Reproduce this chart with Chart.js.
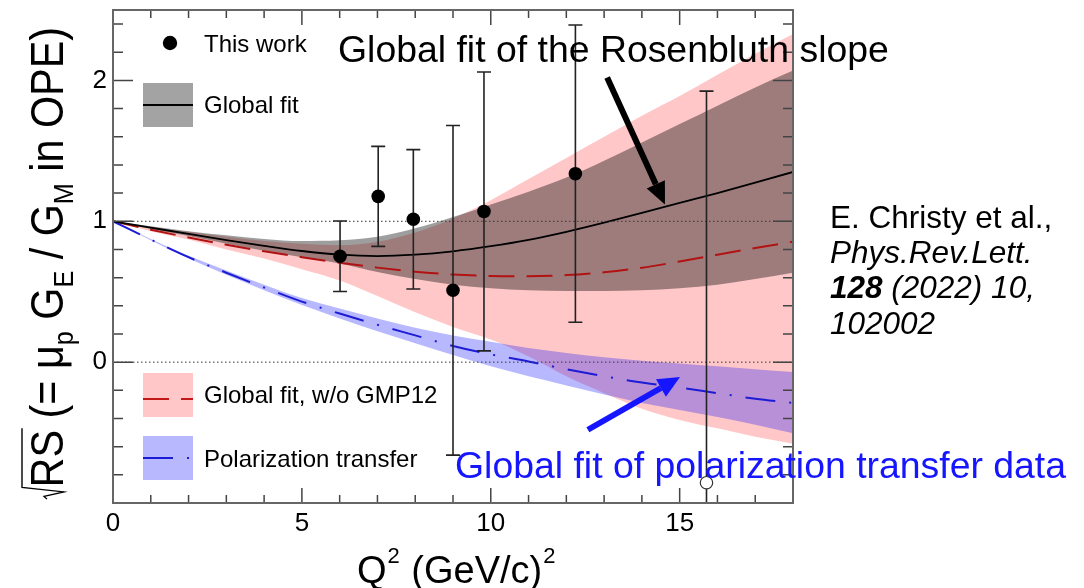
<!DOCTYPE html>
<html>
<head>
<meta charset="utf-8">
<script src="https://cdn.jsdelivr.net/npm/chart.js@4.4.1/dist/chart.umd.min.js"></script>
<style>
  html, body { margin: 0; padding: 0; background: #fff; }
  #wrap { width: 1084px; height: 588px; }
</style>
</head>
<body>
<div id="wrap"><canvas id="rsChart" width="1084" height="588"></canvas></div>
<script>
const FONT = '"Liberation Sans", Arial, Helvetica, sans-serif';

// Q^2 grid on which the fit curves and their bands are tabulated
const q2Grid = [0, 1, 2, 3, 4, 5, 6, 7, 8, 9, 10, 11, 12, 13, 14, 15, 16, 17, 18];

// global fit (Rosenbluth slope)
const globalFit = [1.0, 0.955, 0.91, 0.867, 0.826, 0.789, 0.763, 0.753, 0.763, 0.787, 0.823, 0.868, 0.925, 0.99, 1.06, 1.13, 1.2, 1.275, 1.35];
const globalHi  = [1.0, 0.965, 0.93, 0.9, 0.875, 0.86, 0.865, 0.89, 0.95, 1.03, 1.12, 1.21, 1.31, 1.43, 1.56, 1.69, 1.82, 1.95, 2.07];
const globalLo  = [1.0, 0.945, 0.895, 0.84, 0.79, 0.745, 0.7, 0.64, 0.59, 0.55, 0.525, 0.51, 0.505, 0.505, 0.51, 0.525, 0.55, 0.59, 0.635];

// global fit without the GMP12 data
const noGmpFit = [1.0, 0.94, 0.885, 0.833, 0.787, 0.745, 0.706, 0.671, 0.642, 0.622, 0.612, 0.61, 0.618, 0.638, 0.67, 0.715, 0.763, 0.81, 0.855];
const noGmpHi  = [1.0, 0.955, 0.925, 0.89, 0.86, 0.84, 0.83, 0.855, 0.92, 1.02, 1.15, 1.3, 1.45, 1.6, 1.75, 1.89, 2.04, 2.19, 2.33];
const noGmpLo  = [1.0, 0.93, 0.87, 0.8, 0.735, 0.66, 0.58, 0.47, 0.355, 0.25, 0.16, 0.04, -0.1, -0.22, -0.33, -0.41, -0.47, -0.53, -0.58];

// polarization transfer fit
const polFit = [1.0, 0.87, 0.745, 0.635, 0.53, 0.43, 0.345, 0.265, 0.19, 0.115, 0.055, 0.005, -0.05, -0.1, -0.145, -0.18, -0.22, -0.26, -0.29];
const polHi  = [1.0, 0.875, 0.755, 0.65, 0.55, 0.455, 0.38, 0.31, 0.245, 0.19, 0.145, 0.1, 0.065, 0.035, 0.01, -0.01, -0.03, -0.05, -0.07];
const polLo  = [1.0, 0.865, 0.735, 0.62, 0.51, 0.405, 0.31, 0.22, 0.135, 0.05, -0.03, -0.1, -0.165, -0.23, -0.29, -0.34, -0.39, -0.445, -0.505];

// measured points with symmetric errors
const workQ2  = [6.01, 7.02, 7.95, 9.0, 9.82, 12.24];
const workRS  = [0.752, 1.177, 1.014, 0.51, 1.07, 1.338];
const workErr = [0.25, 0.355, 0.495, 1.17, 0.99, 1.055];
const openQ2  = [15.71];
const openRS  = [-0.856];
const openErr = [2.78];

// dotted reference levels
const refLevels = [1, 0];

const xTickValues = [0, 5, 10, 15];
const yTickValues = [0, 1, 2];

const curve = ys => q2Grid.map((x, i) => ({ x: x, y: ys[i] }));
const clear = 'rgba(0,0,0,0)';

function band(label, ys, color, fill, order) {
  return {
    label: label, data: curve(ys), backgroundColor: color, borderColor: clear,
    borderWidth: 0, pointRadius: 0, fill: fill, order: order,
    cubicInterpolationMode: 'monotone'
  };
}

const datasets = [
  band('noGmpHi', noGmpHi, 'rgba(255,0,0,0.22)', '+1', 20),
  band('noGmpLo', noGmpLo, clear, false, 21),
  band('polHi', polHi, 'rgba(0,0,255,0.28)', '+1', 18),
  band('polLo', polLo, clear, false, 19),
  band('globalHi', globalHi, 'rgba(0,0,0,0.38)', '+1', 16),
  band('globalLo', globalLo, clear, false, 17),
  {
    label: 'Global fit, w/o GMP12', data: curve(noGmpFit), borderColor: '#b31212',
    borderWidth: 2, borderDash: [26, 12], pointRadius: 0, fill: false, order: 10,
    cubicInterpolationMode: 'monotone'
  },
  {
    label: 'Polarization transfer', data: curve(polFit), borderColor: '#1c1cd6',
    borderWidth: 2, borderDash: [30, 14, 2, 14], pointRadius: 0, fill: false, order: 9,
    cubicInterpolationMode: 'monotone'
  },
  {
    label: 'Global fit', data: curve(globalFit), borderColor: '#000',
    borderWidth: 1.8, pointRadius: 0, fill: false, order: 8,
    cubicInterpolationMode: 'monotone'
  }
];

refLevels.forEach((lvl, i) => {
  datasets.push({
    label: 'ref' + lvl, data: [{ x: 0, y: lvl }, { x: 18, y: lvl }],
    borderColor: '#333', borderWidth: 1, borderDash: [1.5, 2.5],
    pointRadius: 0, fill: false, order: 6 + i
  });
});

datasets.push({
  label: 'This work', data: workQ2.map((x, i) => ({ x: x, y: workRS[i] })), errors: workErr,
  showLine: false, pointRadius: 6.8, pointBackgroundColor: '#000', pointBorderColor: '#000',
  pointBorderWidth: 0, order: 2
});
datasets.push({
  label: 'open', data: openQ2.map((x, i) => ({ x: x, y: openRS[i] })), errors: openErr,
  showLine: false, pointRadius: 6.2, pointBackgroundColor: '#fff', pointBorderColor: '#333',
  pointBorderWidth: 1.2, order: 1
});

// vertical error bars with end caps, drawn just before their markers
const errorBars = {
  id: 'errorBars',
  beforeDatasetDraw(chart, args) {
    const ds = chart.data.datasets[args.index];
    if (!ds.errors) return;
    const { ctx, chartArea: a, scales: { x, y } } = chart;
    ctx.save();
    ctx.strokeStyle = '#222';
    ctx.lineWidth = 1.6;
    ds.data.forEach((p, i) => {
      const px = x.getPixelForValue(p.x);
      const top = Math.max(y.getPixelForValue(p.y + ds.errors[i]), a.top);
      const bot = Math.min(y.getPixelForValue(p.y - ds.errors[i]), a.bottom);
      ctx.beginPath();
      ctx.moveTo(px, top); ctx.lineTo(px, bot);
      ctx.moveTo(px - 7, top); ctx.lineTo(px + 7, top);
      ctx.moveTo(px - 7, bot); ctx.lineTo(px + 7, bot);
      ctx.stroke();
    });
    ctx.restore();
  }
};

// ROOT style frame with inward ticks on all four sides
const frameTicks = {
  id: 'frameTicks',
  afterDatasetsDraw(chart) {
    const { ctx, chartArea: a, scales: { x, y } } = chart;
    ctx.save();
    ctx.strokeStyle = '#444';
    ctx.lineWidth = 1.5;
    ctx.beginPath();
    for (let v = 1; v < 18; v++) {
      const px = x.getPixelForValue(v);
      const len = v % 5 === 0 ? 15 : 8;
      ctx.moveTo(px, a.bottom); ctx.lineTo(px, a.bottom - len);
      ctx.moveTo(px, a.top); ctx.lineTo(px, a.top + len);
    }
    for (let k = -4; k <= 12; k++) {
      const py = y.getPixelForValue(k * 0.2);
      const len = k % 5 === 0 ? 20 : 10;
      ctx.moveTo(a.left, py); ctx.lineTo(a.left + len, py);
      ctx.moveTo(a.right, py); ctx.lineTo(a.right - len, py);
    }
    ctx.stroke();
    ctx.strokeStyle = '#666';
    ctx.lineWidth = 2;
    ctx.strokeRect(a.left, a.top, a.right - a.left, a.bottom - a.top);
    ctx.restore();
  }
};

function arrow(ctx, x0, y0, x1, y1, color, width, headLen, headW) {
  const ang = Math.atan2(y1 - y0, x1 - x0);
  const bx = x1 - headLen * Math.cos(ang), by = y1 - headLen * Math.sin(ang);
  ctx.save();
  ctx.strokeStyle = color; ctx.fillStyle = color; ctx.lineWidth = width;
  ctx.beginPath(); ctx.moveTo(x0, y0); ctx.lineTo(bx, by); ctx.stroke();
  const nx = -Math.sin(ang) * headW / 2, ny = Math.cos(ang) * headW / 2;
  ctx.beginPath();
  ctx.moveTo(x1, y1); ctx.lineTo(bx + nx, by + ny); ctx.lineTo(bx - nx, by - ny);
  ctx.closePath(); ctx.fill();
  ctx.restore();
}

function drawYTitle(ctx, baseX, startY, endY) {
  const F = 46, S = 28;
  const parts = [
    { t: 'RS', f: F, dv: 0 },
    { t: ' (= \u03bc', f: F, dv: 0 },
    { t: 'p', f: S, dv: 10 },
    { t: ' G', f: F, dv: 0 },
    { t: 'E', f: S, dv: 10 },
    { t: ' / G', f: F, dv: 0 },
    { t: 'M', f: S, dv: 10 },
    { t: ' in OPE)', f: F, dv: 0 }
  ];
  const radW = 14;
  let total = radW;
  parts.forEach(p => { ctx.font = p.f + 'px ' + FONT; p.w = ctx.measureText(p.t).width; total += p.w; });
  const sx = (startY - endY) / total;
  ctx.save();
  ctx.translate(baseX, startY);
  ctx.rotate(-Math.PI / 2);
  ctx.scale(sx, 1);
  ctx.fillStyle = '#000';
  ctx.strokeStyle = '#000';
  ctx.lineWidth = 1.4;
  // radical sign over RS
  ctx.beginPath();
  ctx.moveTo(1, -16); ctx.lineTo(4, -19); ctx.lineTo(9, 1); ctx.lineTo(radW, -41);
  ctx.lineTo(radW + parts[0].w + 2, -41);
  ctx.stroke();
  let u = radW;
  parts.forEach(p => {
    ctx.font = p.f + 'px ' + FONT;
    ctx.fillText(p.t, u, p.dv);
    u += p.w;
  });
  ctx.restore();
}

function drawXTitle(ctx, x, y) {
  const F = 38, S = 22;
  const segs = [['Q', F, 0], ['2', S, -20], [' (GeV/c)', F, 0], ['2', S, -20]];
  segs.forEach(s => {
    ctx.font = s[1] + 'px ' + FONT;
    ctx.fillText(s[0], x, y + s[2]);
    x += ctx.measureText(s[0]).width + 1;
  });
}

// legend, axis titles and annotations
const decorations = {
  id: 'decorations',
  afterDraw(chart) {
    const { ctx, scales: { x, y } } = chart;
    ctx.save();
    ctx.textBaseline = 'alphabetic';
    ctx.textAlign = 'left';
    ctx.fillStyle = '#000';

    // legend
    ctx.beginPath(); ctx.arc(170, 43, 7.2, 0, Math.PI * 2); ctx.fill();
    ctx.fillStyle = 'rgba(0,0,0,0.36)'; ctx.fillRect(143, 83, 50, 44);
    ctx.fillStyle = 'rgba(255,0,0,0.22)'; ctx.fillRect(143, 373, 50, 44);
    ctx.fillStyle = 'rgba(0,0,255,0.28)'; ctx.fillRect(143, 436, 50, 44);
    ctx.lineWidth = 2;
    ctx.strokeStyle = '#000';
    ctx.beginPath(); ctx.moveTo(143, 105); ctx.lineTo(193, 105); ctx.stroke();
    ctx.strokeStyle = '#c21818'; ctx.setLineDash([26, 12]);
    ctx.beginPath(); ctx.moveTo(143, 399); ctx.lineTo(193, 399); ctx.stroke();
    ctx.strokeStyle = '#1c1cd6'; ctx.setLineDash([30, 14, 2, 14]);
    ctx.beginPath(); ctx.moveTo(143, 458); ctx.lineTo(193, 458); ctx.stroke();
    ctx.setLineDash([]);
    ctx.fillStyle = '#000';
    ctx.font = '24px ' + FONT;
    ctx.fillText('This work', 204, 52);
    ctx.fillText('Global fit', 204, 113);
    ctx.fillText('Global fit, w/o GMP12', 204, 403);
    ctx.fillText('Polarization transfer', 204, 467);

    // axis titles
    drawYTitle(ctx, 63, 500, 27);
    drawXTitle(ctx, 357, 583);

    // annotations
    arrow(ctx, x.getPixelForValue(13.08), y.getPixelForValue(2.02),
      x.getPixelForValue(14.61), y.getPixelForValue(1.12), '#000', 6, 22, 20);
    arrow(ctx, x.getPixelForValue(12.57), y.getPixelForValue(-0.48),
      x.getPixelForValue(15.01), y.getPixelForValue(-0.106), '#1515ff', 6, 22, 20);
    ctx.fillStyle = '#000';
    ctx.font = '37.4px ' + FONT;
    ctx.fillText('Global fit of the Rosenbluth slope', 338, 62);
    ctx.fillStyle = '#1515ff';
    ctx.fillText('Global fit of polarization transfer data', 455, 478);

    // reference
    ctx.fillStyle = '#000';
    ctx.font = '31.5px ' + FONT;
    ctx.fillText('E. Christy et al.,', 830, 228);
    ctx.font = 'italic 31.5px ' + FONT;
    ctx.fillText('Phys.Rev.Lett.', 830, 263);
    ctx.font = 'italic bold 31.5px ' + FONT;
    ctx.fillText('128', 830, 298);
    const w128 = ctx.measureText('128').width;
    ctx.font = 'italic 31.5px ' + FONT;
    ctx.fillText(' (2022) 10,', 830 + w128, 298);
    ctx.fillText('102002', 830, 334);
    ctx.restore();
  }
};

// keep the plot frame at fixed pixel edges: no extra label overhang padding
function fixPadding(s) {
  s.paddingTop = 0; s.paddingBottom = 0; s.paddingLeft = 0; s.paddingRight = 0;
}

new Chart(document.getElementById('rsChart'), {
  type: 'line',
  data: { datasets: datasets },
  options: {
    responsive: false,
    animation: false,
    devicePixelRatio: 1,
    layout: { padding: { left: 0, right: 291, top: 10, bottom: 0 } },
    plugins: { legend: { display: false }, tooltip: { enabled: false } },
    scales: {
      x: {
        type: 'linear', min: 0, max: 18,
        afterBuildTicks: s => { s.ticks = xTickValues.map(v => ({ value: v })); },
        afterFit: s => { s.height = 85; fixPadding(s); },
        grid: { display: false, drawTicks: false },
        border: { display: false },
        ticks: { color: '#000', font: { family: FONT, size: 26 }, padding: 5, callback: v => String(v) }
      },
      y: {
        type: 'linear', min: -1, max: 2.5,
        afterBuildTicks: s => { s.ticks = yTickValues.map(v => ({ value: v })); },
        afterFit: s => { s.width = 113; fixPadding(s); },
        grid: { display: false, drawTicks: false },
        border: { display: false },
        ticks: { color: '#000', font: { family: FONT, size: 26 }, padding: 6, callback: v => String(v) }
      }
    }
  },
  plugins: [errorBars, frameTicks, decorations]
});
</script>
</body>
</html>
